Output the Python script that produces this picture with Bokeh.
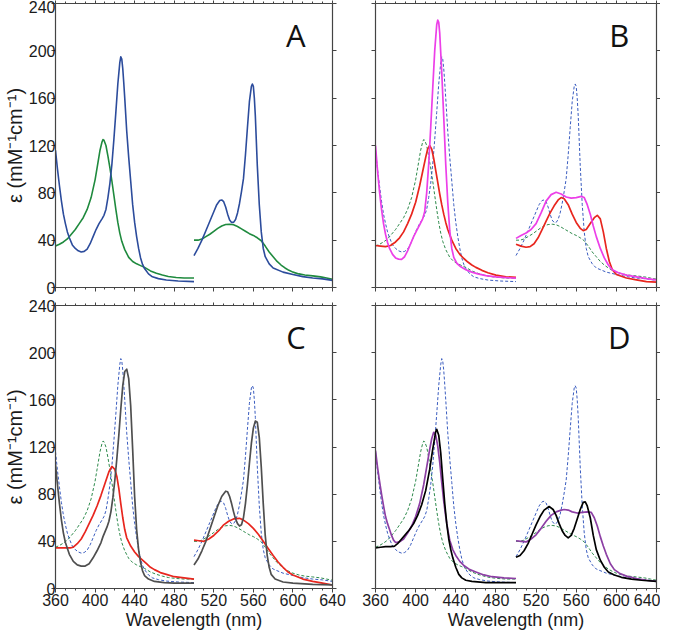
from bokeh.plotting import figure
from bokeh.layouts import column, row
from bokeh.models import Range1d, FixedTicker, LinearAxis, Label
from bokeh.embed import file_html
from bokeh.resources import INLINE

# ---------------- data (wavelength nm, epsilon mM^-1 cm^-1) ----------------
x_ticks = [360, 400, 440, 480, 520, 560, 600, 640]
x_minor = [370, 380, 390, 410, 420, 430, 450, 460, 470, 490, 500, 510, 530, 540, 550,
           570, 580, 590, 610, 620, 630]
y_ticks = [0, 40, 80, 120, 160, 200, 240]

# Panel A – blue (reduced) and green (oxidized) reference spectra
blue_left = [(360,116),(362,100),(364,86),(366,73),(368,62),(370,54),(372,47),(374,42),(377,36),
             (380,33),(383,31),(386,30),(389,30.5),(392,32.5),(395,37),(398,43),(401,49),(404,54),
             (407,58),(409,61),(411,66),(413,76),(415,88),(417,104),(419,125),(421,148),(423,172),
             (425,190),(426,195),(427,193),(428,185),(429,173),(430,160),(432,132),(434,110),
             (436,90),(438,70),(440,55),(442,43),(444,33),(446,25),(448,19.5),(450,16),(454,11.5),
             (458,9),(464,7.5),(472,6.3),(484,5.5),(500,5)]
blue_right = [(500,27),(504,33),(508,40),(512,48),(516,56),(520,64),(523,70),(526,73.5),(528,74),
              (530,72.5),(532,68),(534,62),(536,57),(538,55),(540,55),(542,57.5),(544,63),(546,71),
              (548,81),(550,92),(552,112),(554,135),(556,157),(558,170),(559,172),(560,170),
              (561,160),(562,145),(564,103),(566,70),(568,47),(570,33),(572,26),(576,20),(580,16.5),
              (590,13),(600,11),(610,9.2),(620,8),(630,7.3),(640,6)]
green_left = [(360,35),(364,36.5),(368,38.5),(372,41),(376,45),(380,49),(384,54),(388,59),(392,66),
              (396,76),(400,91),(403,106),(405,116),(407,123),(408,125),(409,124.5),(411,120),
              (413,111),(415,101),(417,90),(419,78),(421,66),(423,55),(425,46),(427,39),(430,32),
              (434,25.5),(438,22),(442,20),(446,18.5),(450,17),(456,14),(462,12),(468,10.5),
              (474,9.3),(482,8.5),(490,8),(500,8)]
green_right = [(500,40),(504,40),(508,41),(512,43),(516,45),(520,47.5),(524,50),(528,52),(532,53.2),
               (536,53.5),(540,53),(544,51.5),(548,49.5),(552,47.5),(556,45.5),(560,44),(564,42),
               (568,39.5),(572,35),(576,30),(580,26),(584,22),(588,19),(592,16.5),(596,14.5),
               (600,13),(606,11.5),(612,10.5),(620,9.8),(628,9),(634,8),(640,7)]

# Panel B – magenta and red
magenta_b_left = [(360,120),(362,99),(364,81),(366,66),(368,54),(370,45),(372,38),(374,33),(377,28),
                  (380,25),(383,24),(386,23.8),(389,26),(392,31),(395,37),(398,43),(401,48),(404,53),
                  (407,58),(409,64),(411,80),(413,104),(415,135),(417,168),(419,200),(421,222),
                  (422,226),(423,224),(424,215),(426,182),(428,144),(430,104),(432,72),(434,48),
                  (436,33),(438,25.5),(441,20.5),(445,17.5),(450,15),(456,13),(462,11.5),(470,10),
                  (480,9),(490,8.3),(500,8)]
magenta_b_right = [(500,41.5),(505,44),(510,46),(515,49),(520,54),(525,63),(530,73),(535,78.5),
                   (540,80.5),(545,79),(550,76.5),(555,75.5),(560,76),(565,77),(568,76),(571,70),
                   (574,62),(577,52),(580,43),(584,33),(588,25),(592,19),(596,15),(602,12.5),
                   (610,10.5),(620,9),(630,7.5),(640,6.5)]
red_b_left = [(360,35.5),(365,35),(370,34.5),(375,35.5),(380,38.5),(384,42),(388,47),(392,54),
              (396,62),(400,72),(404,86),(407,98),(410,110),(412,117),(414,120),(416,117),(418,109),
              (420,99),(422,89),(424,79),(426,70),(428,62),(430,55),(432,49),(436,40),(440,33),
              (444,28),(448,24.5),(452,21.5),(456,19),(460,17),(466,14.5),(472,12.5),(480,10.5),
              (490,9),(500,8.5)]
red_b_right = [(500,36.5),(505,35),(510,34),(514,34.5),(518,37),(522,42),(526,49),(530,56),(534,63),
               (538,69),(542,74),(545,76),(548,75),(552,70),(556,62),(560,55),(564,50),(567,48),
               (570,49),(574,54),(578,59),(581,61),(584,58),(587,47),(590,33),(593,22),(596,15),
               (600,11),(610,8),(620,6.5),(630,5),(640,4.5)]

# Panel C – grey and red
grey_c_left = [(360,105),(362,88),(364,72),(366,58),(368,47),(370,39),(374,29),(378,23),(382,20),
               (386,19),(390,19),(394,21),(398,26),(402,32),(406,39),(408,44),(410,48),(412,52),
               (414,57),(416,65),(418,77),(420,92),(422,110),(424,130),(426,152),(428,172),(430,184),
               (432,186),(434,178),(436,155),(438,118),(440,78),(442,50),(444,33),(446,22),(448,15),
               (450,11),(454,8),(460,6),(470,5),(480,4.5),(500,4.5)]
grey_c_right = [(500,20),(504,25),(508,32),(512,40),(516,50),(520,60),(524,70),(528,78),(532,82.5),
                (534,82),(536,78),(538,72),(540,65),(542,59),(544,55),(546,53),(548,54),(550,60),
                (552,72),(554,88),(556,106),(558,123),(560,136),(562,142),(564,141),(566,128),
                (568,103),(570,72),(572,45),(574,28),(576,18),(578,12),(582,8),(590,5.5),(600,4.5),
                (620,3.5),(640,3)]
red_c_left = [(360,34.5),(365,34.5),(370,34.5),(375,34.5),(378,35),(382,38),(386,42),(390,48),
              (394,55),(398,62),(402,70),(406,79),(410,89),(414,99),(417,103.5),(420,101),(422,95),
              (424,85),(426,72),(428,60),(430,50),(432,43),(436,36),(440,31),(444,27),(448,24),
              (452,21),(456,18),(460,16),(466,13.5),(472,12),(480,10),(490,9),(500,8)]
red_c_right = [(500,41),(505,40.5),(510,40),(515,42),(520,45),(525,49),(530,54),(535,57),(540,59),
               (546,59.5),(550,58),(555,55),(560,51),(565,46),(570,40),(575,34),(580,28),(585,22.5),
               (590,18),(595,14),(600,11.5),(610,8),(620,6),(630,4.5),(640,3)]

# Panel D – black and purple
black_d_left = [(360,34.5),(365,35),(370,35.5),(375,35.5),(379,36),(382,38),(386,42),(390,46),
                (394,50),(398,55),(402,62),(406,71),(410,83),(414,101),(417,118),(420,133),(421,135),
                (423,130),(425,115),(427,93),(429,72),(431,55),(433,42),(435,33),(437,26),(440,18),
                (443,12),(446,9),(450,7),(456,6),(470,5),(500,5)]
black_d_right = [(500,26.5),(504,28),(508,32),(512,38),(516,46),(520,54),(524,61),(528,66.5),
                 (533,69.5),(537,67),(540,62),(543,55),(546,49),(549,45),(552,43),(555,45),(558,51),
                 (561,59),(564,67),(567,73),(569,73.5),(571,70),(574,60),(577,45),(580,33),(584,24),
                 (588,18),(592,14),(598,11.5),(605,9.5),(615,8),(625,7),(640,6)]
purple_d_left = [(360,117),(362,103),(364,91),(366,80),(368,70),(370,61),(372,55),(374,50),(376,45),
                 (378,41),(380,39),(384,39.5),(388,42),(392,47),(396,53),(400,61),(404,72),(408,88),
                 (411,103),(414,118),(416,127),(418,132.5),(420,130),(422,121),(424,107),(426,90),
                 (428,74),(430,61),(432,50),(434,41),(437,33),(440,28),(444,23),(448,19.5),(454,16),
                 (460,14),(468,11.5),(476,10),(488,9),(500,8.5)]
purple_d_right = [(500,40.5),(505,40),(510,39.5),(515,42),(520,45.5),(525,51),(530,57),(535,62),
                  (540,65),(545,66.5),(548,67),(552,66.5),(556,65),(561,64),(566,64.5),(571,65),
                  (575,64.5),(578,60),(581,53),(584,44),(587,36),(590,29),(594,21),(598,16),(603,13),
                  (610,10.5),(620,8.5),(630,7),(640,6)]

# ---------------- styling ----------------
BLUE = "#2c4c9c"
GREEN = "#1f8a3e"
BLUE_D = "#3a5cbf"
GREEN_D = "#2e8a4c"
MAGENTA = "#ec3fe8"
RED = "#e8261e"
GREY = "#4f4f4f"
BLACK = "#000000"
PURPLE = "#8c3fa4"
AX = "#444444"
FONT = "Liberation Sans"


def style_axis(ax, labels=True):
    ax.axis_line_color = AX
    ax.axis_line_width = 1.2
    ax.major_tick_line_color = AX
    ax.minor_tick_line_color = AX
    ax.major_tick_in = 0
    ax.major_tick_out = 4
    ax.minor_tick_in = 0
    ax.minor_tick_out = 2
    ax.major_label_text_font = FONT
    ax.major_label_text_color = "#1a1a1a"
    ax.axis_label_text_font = FONT
    ax.axis_label_text_font_style = "normal"
    ax.axis_label_text_color = "#1a1a1a"
    if labels:
        ax.major_label_text_font_size = "16px"
        ax.major_label_standoff = 1
    else:
        ax.major_label_text_font_size = "1px"
        ax.major_label_text_color = None
        ax.major_label_standoff = 0


def make_panel(letter, w, h, bl, br, bt, bb, ylab, xlab):
    p = figure(width=w, height=h, output_backend="svg", toolbar_location=None,
               x_range=Range1d(360, 640), y_range=Range1d(0, 240),
               min_border_left=bl, min_border_right=br, min_border_top=bt, min_border_bottom=bb)
    p.outline_line_color = None
    p.grid.visible = False
    p.background_fill_color = "white"
    p.border_fill_color = "white"

    xa = p.xaxis[0]
    ya = p.yaxis[0]
    xa.ticker = FixedTicker(ticks=x_ticks, minor_ticks=x_minor)
    ya.ticker = FixedTicker(ticks=y_ticks)
    style_axis(xa, labels=xlab)
    style_axis(ya, labels=ylab)
    ya.minor_tick_out = 0
    if xlab:
        xa.axis_label = "Wavelength (nm)"
        xa.axis_label_text_font_size = "18px"
        xa.axis_label_standoff = 1
    if ylab:
        ya.axis_label = "\u03b5 (mM\u207b\u00b9cm\u207b\u00b9)"
        ya.axis_label_text_font_size = "20px"
        ya.axis_label_standoff = 0
        ya.major_label_standoff = -4

    top = LinearAxis(ticker=FixedTicker(ticks=x_ticks, minor_ticks=x_minor))
    style_axis(top, labels=False)
    top.major_tick_out = 3
    top.minor_tick_out = 2
    p.add_layout(top, "above")
    right = LinearAxis(ticker=FixedTicker(ticks=y_ticks))
    style_axis(right, labels=False)
    right.minor_tick_out = 0
    p.add_layout(right, "right")

    p.add_layout(Label(x=603, y=213, text=letter, text_font="Open Sans",
                       text_font_size="31px", text_align="center",
                       text_baseline="alphabetic", text_color="#111111"))
    return p


def draw(p, pts, color, width=1.6, dash="solid"):
    xs = [a for a, b in pts]
    ys = [b for a, b in pts]
    p.line(xs, ys, line_color=color, line_width=width, line_dash=dash, line_join="round")


def draw_refs(p):
    for seg in (green_left, green_right):
        draw(p, seg, GREEN_D, 1.0, "3 2")
    for seg in (blue_left, blue_right):
        draw(p, seg, BLUE_D, 1.0, "3 2")


pA = make_panel("A", 347, 296, 51, 15, 3, 9, True, False)
pB = make_panel("B", 313, 296, 28, 4, 3, 9, False, False)
pC = make_panel("C", 347, 338, 51, 15, 9, 46, True, True)
pD = make_panel("D", 313, 338, 28, 4, 9, 46, False, True)

for seg in (green_left, green_right):
    draw(pA, seg, GREEN, 1.6)
for seg in (blue_left, blue_right):
    draw(pA, seg, BLUE, 1.6)

draw_refs(pB)
for seg in (red_b_left, red_b_right):
    draw(pB, seg, RED, 1.7)
for seg in (magenta_b_left, magenta_b_right):
    draw(pB, seg, MAGENTA, 1.7)

draw_refs(pC)
for seg in (red_c_left, red_c_right):
    draw(pC, seg, RED, 1.7)
for seg in (grey_c_left, grey_c_right):
    draw(pC, seg, GREY, 1.7)

draw_refs(pD)
for seg in (purple_d_left, purple_d_right):
    draw(pD, seg, PURPLE, 1.7)
for seg in (black_d_left, black_d_right):
    draw(pD, seg, BLACK, 1.7)

layout = column(row(pA, pB), row(pC, pD))
open("out.html", "w").write(file_html(layout, INLINE))
